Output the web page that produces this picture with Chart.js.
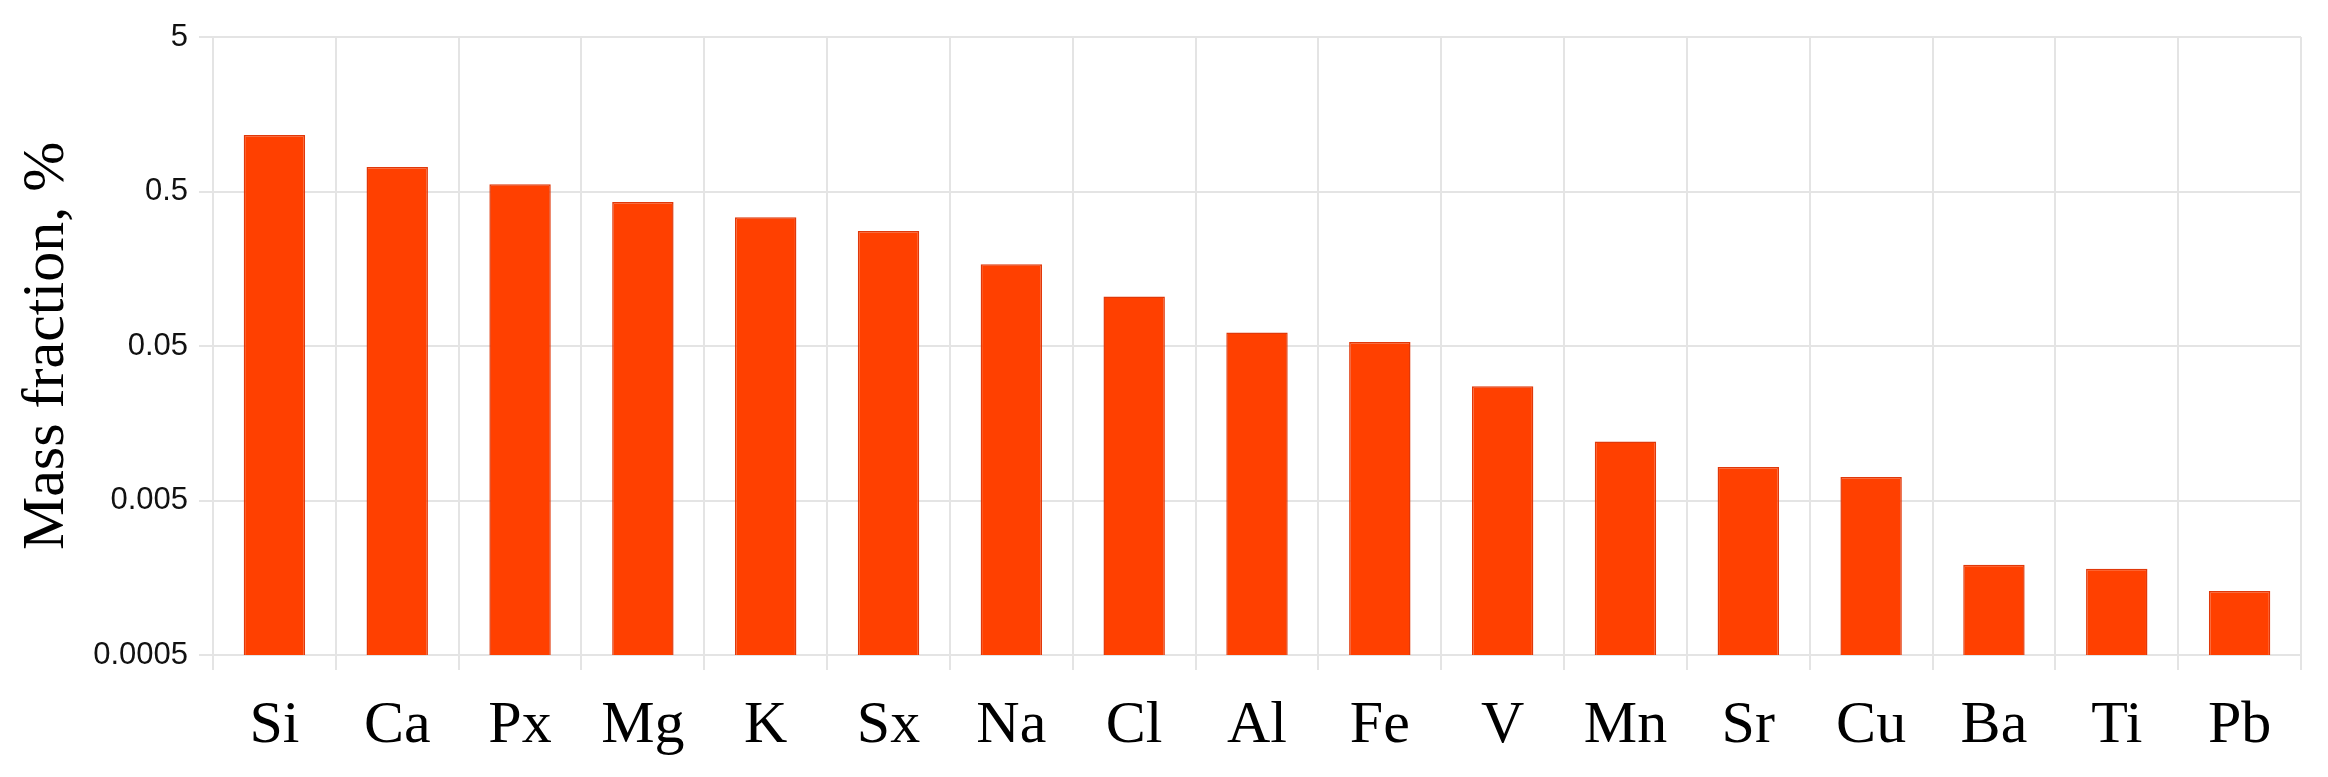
<!DOCTYPE html>
<html>
<head>
<meta charset="utf-8">
<script src="https://cdn.jsdelivr.net/npm/chart.js@4/dist/chart.umd.min.js"></script>
<style>
  html, body { margin: 0; padding: 0; background: #fff; }
  #wrap { width: 2328px; height: 777px; position: relative; }
</style>
</head>
<body>
<div id="wrap"><canvas id="massChart"></canvas></div>
<script>
const elements = ['Si', 'Ca', 'Px', 'Mg', 'K', 'Sx', 'Na', 'Cl', 'Al', 'Fe', 'V', 'Mn', 'Sr', 'Cu', 'Ba', 'Ti', 'Pb'];
const massFraction = [1.16, 0.72, 0.557, 0.427, 0.341, 0.278, 0.169, 0.1045, 0.0611, 0.053, 0.0274, 0.01205, 0.00824, 0.0071, 0.00192, 0.00181, 0.0013];
const yTicks = [0.0005, 0.005, 0.05, 0.5, 5];
const yTickLabels = ['0.0005', '0.005', '0.05', '0.5', '5'];

const gridColor = '#e4e4e4';

const ctx = document.getElementById('massChart').getContext('2d');
const massChart = new Chart(ctx, {
  type: 'bar',
  data: {
    labels: elements,
    datasets: [{
      label: 'Mass fraction',
      data: massFraction,
      backgroundColor: '#ff4000',
      borderColor: '#e0380a',
      borderWidth: 1.5,
      barPercentage: 0.5,
      categoryPercentage: 1.0
    }]
  },
  options: {
    responsive: true,
    maintainAspectRatio: false,
    animation: false,
    layout: { padding: { top: 37, right: 27, bottom: 0, left: 0 } },
    plugins: {
      legend: { display: false },
      tooltip: { enabled: false }
    },
    scales: {
      x: {
        grid: { color: gridColor, lineWidth: 2, tickLength: 15, offset: true },
        border: { color: gridColor, width: 2 },
        ticks: {
          color: '#000',
          padding: 20,
          maxRotation: 0,
          font: { family: '"Liberation Serif", "Times New Roman", serif', size: 60 }
        },
        afterFit: scale => { scale.height = 122; }
      },
      y: {
        type: 'logarithmic',
        min: 0.0005,
        max: 5,
        afterBuildTicks: scale => {
          scale.ticks = yTicks.map(v => ({ value: v }));
        },
        afterFit: scale => { scale.width = 213; },
        grid: { color: gridColor, lineWidth: 2, tickLength: 14 },
        border: { color: gridColor, width: 2 },
        ticks: {
          color: '#111',
          padding: 11,
          font: { family: '"Liberation Sans", Arial, sans-serif', size: 31 },
          callback: (value) => {
            const i = yTicks.indexOf(value);
            return i >= 0 ? yTickLabels[i] : '';
          }
        },
        title: {
          display: true,
          text: 'Mass fraction, %',
          color: '#000',
          padding: { top: 11, bottom: 0 },
          font: { family: '"Liberation Serif", "Times New Roman", serif', size: 60, weight: 'normal' }
        }
      }
    }
  }
});
</script>
</body>
</html>
